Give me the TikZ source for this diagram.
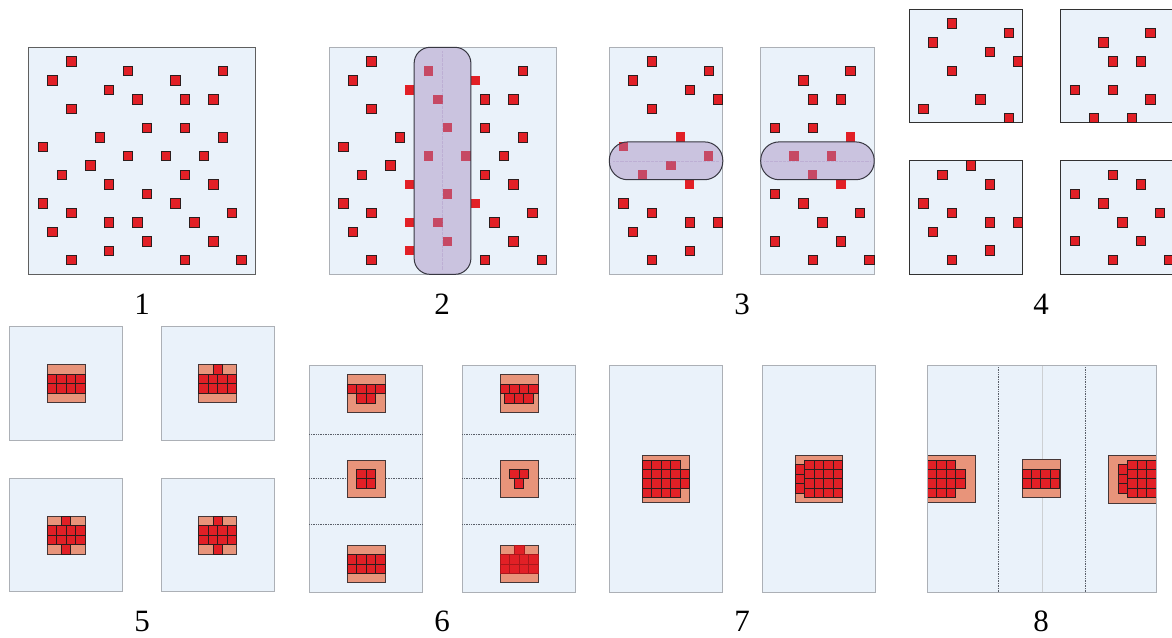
\documentclass[tikz,border=0pt]{standalone}
\usepackage{fontspec}
\setmainfont{Liberation Serif}
\definecolor{bgblue}{RGB}{234,242,250}
\definecolor{boxgray}{RGB}{172,176,182}
\definecolor{boxmid}{RGB}{95,95,95}
\definecolor{boxdark}{RGB}{50,50,50}
\definecolor{redc}{RGB}{226,32,38}
\definecolor{sqborder}{RGB}{45,30,30}
\definecolor{salmon}{RGB}{232,148,122}
\definecolor{halob}{RGB}{70,55,55}
\definecolor{capc}{RGB}{160,130,187}
\definecolor{capb}{RGB}{55,55,65}
\definecolor{sepc}{RGB}{90,95,105}
\tikzset{
  panel/.style={fill=bgblue, draw=boxgray, line width=1pt},
  panelmid/.style={fill=bgblue, draw=boxmid, line width=1pt},
  paneldark/.style={fill=bgblue, draw=boxdark, line width=1pt},
  redsq/.style={fill=redc, draw=sqborder, line width=0.8pt},
  redplain/.style={fill=redc},
  redsoft/.style={fill=redc, draw=redc!75!black, line width=0.4pt},
  halo/.style={fill=salmon, draw=halob, line width=0.8pt},
  capsule/.style={fill=capc, fill opacity=0.42, draw=capb, line width=1pt},
  capline/.style={draw=capc, densely dotted, line width=0.3pt, opacity=0.3},
  sepline/.style={draw=sepc, densely dotted, line width=0.7pt},
  faintline/.style={draw=boxgray!60, line width=0.5pt},
  lab/.style={font=\fontsize{31}{31}\selectfont, inner sep=0pt}
}
\newcommand\reds[1]{\foreach \i/\j in {#1} {\draw[redsq] (\i,\j) rectangle ++(1,1);}}
\newcommand\plains[1]{\foreach \i/\j in {#1} {\fill[redplain] (\i,\j) rectangle ++(1,1);}}
% x0 y0 lastcol lastrow
\newcommand\redblock[4]{\foreach \ii in {0,...,#3} {\foreach \jj in {0,...,#4} {\draw[redsq] ({#1+\ii},{#2+\jj}) rectangle ++(1,1);}}}
\newcommand\softblock[4]{\foreach \ii in {0,...,#3} {\foreach \jj in {0,...,#4} {\draw[redsoft] ({#1+\ii},{#2+\jj}) rectangle ++(1,1);}}}
\begin{document}
\begin{tikzpicture}[x=1pt,y=-1pt]
\useasboundingbox (0,0) rectangle (1172,637);
\fill[white] (0,0) rectangle (1172,637);

% ---------- Panel 1 ----------
\begin{scope}[shift={(28.7,47.3)}, x=9.46pt, y=-9.46pt]
\draw[panelmid] (0,0) rectangle (24,24);
\reds{4/1,10/2,20/2,2/3,15/3,8/4,11/5,16/5,19/5,4/6,12/8,16/8,7/9,20/9,1/10,10/11,14/11,18/11,6/12,3/13,16/13,8/14,19/14,12/15,1/16,15/16,4/17,21/17,8/18,11/18,17/18,2/19,12/20,19/20,8/21,4/22,16/22,22/22}
\end{scope}

% ---------- Panel 2 ----------
\begin{scope}[shift={(329,47.3)}, x=9.46pt, y=-9.46pt]
\draw[panel] (0,0) rectangle (24,24);
\reds{4/1,20/2,2/3,16/5,19/5,4/6,16/8,7/9,20/9,1/10,18/11,6/12,3/13,16/13,19/14,1/16,4/17,21/17,17/18,2/19,19/20,4/22,16/22,22/22}
\plains{8/4,8/14,8/18,8/21,15/3,15/16}
\plains{10/2,11/5,12/8,10/11,14/11,12/15,11/18,12/20}
\draw[capsule, rounded corners=16pt] (9,0) rectangle (15,24);
\draw[capline] (12,0.4) -- (12,23.6);
\end{scope}

% ---------- Panel 3 ----------
\begin{scope}[shift={(609.3,47.3)}, x=9.46pt, y=-9.46pt]
\draw[panel] (0,0) rectangle (12,24);
\reds{4/1,10/2,2/3,8/4,11/5,4/6,1/16,4/17,8/18,11/18,2/19,8/21,4/22}
\plains{7/9,8/14}
\plains{1/10,10/11,6/12,3/13}
\draw[capsule, rounded corners=18.5pt] (0,10) rectangle (12,14);
\draw[capline] (0.4,12) -- (11.6,12);
\end{scope}
\begin{scope}[shift={(760.7,47.3)}, x=9.46pt, y=-9.46pt]
\draw[panel] (0,0) rectangle (12,24);
\reds{9/2,4/3,5/5,8/5,1/8,5/8,1/15,4/16,10/17,6/18,1/20,8/20,5/22,11/22}
\plains{9/9,8/14}
\plains{3/11,7/11,5/13}
\draw[capsule, rounded corners=18.5pt] (0,10) rectangle (12,14);
\draw[capline] (0.4,12) -- (11.6,12);
\end{scope}

% ---------- Panel 4 ----------
\begin{scope}[shift={(909.3,9.3)}, x=9.46pt, y=-9.46pt]
\draw[paneldark] (0,0) rectangle (12,12);
\reds{4/1,10/2,2/3,8/4,11/5,4/6,7/9,1/10,10/11}
\end{scope}
\begin{scope}[shift={(1060.7,9.3)}, x=9.46pt, y=-9.46pt]
\draw[paneldark] (0,0) rectangle (12,12);
\reds{9/2,4/3,5/5,8/5,1/8,5/8,9/9,3/11,7/11}
\end{scope}
\begin{scope}[shift={(909.3,160.7)}, x=9.46pt, y=-9.46pt]
\draw[paneldark] (0,0) rectangle (12,12);
\reds{6/0,3/1,8/2,1/4,4/5,8/6,11/6,2/7,8/9,4/10}
\end{scope}
\begin{scope}[shift={(1060.7,160.7)}, x=9.46pt, y=-9.46pt]
\draw[paneldark] (0,0) rectangle (12,12);
\reds{5/1,8/2,1/3,4/4,10/5,6/6,1/8,8/8,5/10,11/10}
\end{scope}

% ---------- Panel 5 ----------
\begin{scope}[shift={(9.3,326.7)}, x=9.46pt, y=-9.46pt]
\draw[panel] (0,0) rectangle (12,12);
\draw[halo] (4,4) rectangle (8,8);
\redblock{4}{5}{3}{1}
\end{scope}
\begin{scope}[shift={(161,326.7)}, x=9.46pt, y=-9.46pt]
\draw[panel] (0,0) rectangle (12,12);
\draw[halo] (4,4) rectangle (8,8);
\redblock{4}{5}{3}{1}
\reds{5.5/4}
\end{scope}
\begin{scope}[shift={(9.3,478.3)}, x=9.46pt, y=-9.46pt]
\draw[panel] (0,0) rectangle (12,12);
\draw[halo] (4,4) rectangle (8,8);
\redblock{4}{5}{3}{1}
\reds{5.5/4,5.5/7}
\end{scope}
\begin{scope}[shift={(161,478.3)}, x=9.46pt, y=-9.46pt]
\draw[panel] (0,0) rectangle (12,12);
\draw[halo] (4,4) rectangle (8,8);
\redblock{4}{5}{3}{1}
\reds{5.5/4,5.5/7}
\end{scope}

% ---------- Panel 6 ----------
\begin{scope}[shift={(309.3,365.3)}, x=9.46pt, y=-9.46pt]
\draw[panel] (0,0) rectangle (12,24);
\draw[sepline] (0,7.25) -- (12,7.25);
\draw[sepline] (0,12) -- (12,12);
\draw[sepline] (0,16.8) -- (12,16.8);
\draw[halo] (4,1) rectangle (8,5);
\redblock{4}{2}{3}{0}
\redblock{5}{3}{1}{0}
\draw[halo] (4,10) rectangle (8,14);
\redblock{5}{11}{1}{1}
\draw[halo] (4,19) rectangle (8,23);
\redblock{4}{20}{3}{1}
\end{scope}
\begin{scope}[shift={(462.3,365.3)}, x=9.46pt, y=-9.46pt]
\draw[panel] (0,0) rectangle (12,24);
\draw[sepline] (0,7.25) -- (12,7.25);
\draw[sepline] (0,12) -- (12,12);
\draw[sepline] (0,16.8) -- (12,16.8);
\draw[halo] (4,1) rectangle (8,5);
\redblock{4}{2}{3}{0}
\redblock{4.5}{3}{2}{0}
\draw[halo] (4,10) rectangle (8,14);
\redblock{5}{11}{1}{0}
\reds{5.5/12}
\draw[halo] (4,19) rectangle (8,23);
\softblock{4}{20}{3}{1}
\softblock{5.5}{19}{0}{0}
\end{scope}

% ---------- Panel 7 ----------
\begin{scope}[shift={(609.3,365.3)}, x=9.46pt, y=-9.46pt]
\draw[panel] (0,0) rectangle (12,24);
\draw[halo] (3.5,9.5) rectangle (8.5,14.5);
\redblock{3.5}{10}{3}{3}
\reds{7.5/11,7.5/12}
\end{scope}
\begin{scope}[shift={(762.3,365.3)}, x=9.46pt, y=-9.46pt]
\draw[panel] (0,0) rectangle (12,24);
\draw[halo] (3.5,9.5) rectangle (8.5,14.5);
\redblock{4.5}{10}{3}{3}
\reds{3.5/10.5,3.5/11.5,3.5/12.5}
\end{scope}

% ---------- Panel 8 ----------
\begin{scope}[shift={(927.3,365.3)}, x=9.46pt, y=-9.46pt]
\draw[panel] (0,0) rectangle (24.25,24);
\draw[faintline] (12.12,0) -- (12.12,24);
\draw[sepline] (7.55,0) -- (7.55,24);
\draw[sepline] (16.75,0) -- (16.75,24);
\begin{scope}
\clip (0,0) rectangle (24.25,24);
\draw[halo] (-1,9.5) rectangle (5.08,14.5);
\redblock{-1}{10}{3}{3}
\reds{3/11,3/12}
\draw[halo] (10,9.95) rectangle (14.05,14);
\redblock{10}{11}{3}{1}
\draw[halo] (19.17,9.5) rectangle (25,14.55);
\redblock{21.17}{10}{3}{3}
\reds{20.17/10.5,20.17/11.5,20.17/12.5}
\end{scope}
\draw[boxgray, line width=1pt] (0,0) rectangle (24.25,24);
\end{scope}

% ---------- Labels ----------
\node[lab] (lab1) at (142,304) {1};
\node[lab] (lab2) at (442,304) {2};
\node[lab] (lab3) at (742,304) {3};
\node[lab] (lab4) at (1041,304) {4};
\node[lab] (lab5) at (142,621) {5};
\node[lab] (lab6) at (442,621) {6};
\node[lab] (lab7) at (742,621) {7};
\node[lab] (lab8) at (1041,621) {8};
\end{tikzpicture}
\end{document}
